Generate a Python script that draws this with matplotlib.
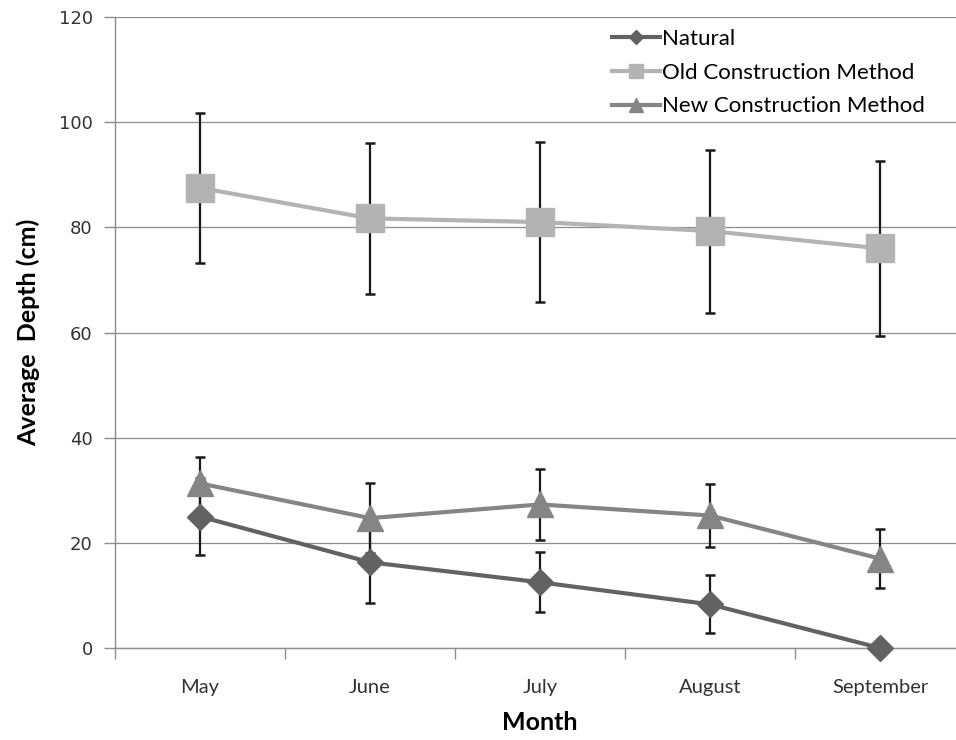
import matplotlib
matplotlib.use("Agg")
import matplotlib.pyplot as plt
from matplotlib.ticker import FixedLocator

months = ["May", "June", "July", "August", "September"]
natural = [25.0, 16.3, 12.5, 8.3, 0.0]
natural_err = [7.3, 7.7, 5.7, 5.5, 0.0]
old_method = [87.5, 81.7, 81.0, 79.3, 76.0]
old_err = [14.3, 14.4, 15.2, 15.5, 16.6]
new_method = [31.3, 24.7, 27.3, 25.2, 17.0]
new_err = [5.0, 6.7, 6.7, 6.0, 5.6]

fig = plt.figure(figsize=(9.56, 7.4), dpi=100)
ax = fig.add_axes([115/956, 1-648/740, 850/956, (648-17)/740])

x = list(range(len(months)))
series = [
    ("Natural", natural, natural_err, "#626262", "D", 13.5),
    ("Old Construction Method", old_method, old_err, "#b3b3b3", "s", 20),
    ("New Construction Method", new_method, new_err, "#858585", "^", 19),
]
for name, vals, err, col, mk, ms in series:
    ax.errorbar(x, vals, yerr=err, fmt="none", ecolor="#1a1a1a", elinewidth=1.6,
                capsize=3.8, capthick=1.8, zorder=2)
for name, vals, err, col, mk, ms in series:
    ax.plot(x, vals, color=col, lw=3.0, marker=mk, markersize=ms,
            markerfacecolor=col, markeredgecolor=col, label=name, zorder=3, clip_on=False)

ax.set_xlim(-0.5, 4.5)
ax.set_ylim(0, 120)
ax.set_yticks(range(0, 121, 20))
ax.yaxis.grid(True, color="#8c8c8c", lw=0.9)
ax.set_axisbelow(True)
ax.set_xticks(x)
ax.set_xticklabels(months, family="Lato")
ax.xaxis.set_minor_locator(FixedLocator([-0.5, 0.5, 1.5, 2.5, 3.5, 4.5]))
ax.tick_params(axis="x", which="major", length=0, pad=22, labelsize=14.5, labelcolor="#333333")
ax.tick_params(axis="x", which="minor", length=8, color="#8c8c8c", width=1)
ax.tick_params(axis="y", length=8, color="#8c8c8c", width=1, labelsize=13,
               labelcolor="#333333", pad=8)
for s in ["top", "right"]:
    ax.spines[s].set_visible(False)
for s in ["left", "bottom"]:
    ax.spines[s].set_color("#8c8c8c")
    ax.spines[s].set_linewidth(1.0)

ax.set_xlabel("Month", fontsize=18, fontweight="bold", family="Lato", labelpad=11)
ax.set_ylabel("Average  Depth (cm)", fontsize=18, fontweight="bold", family="Lato", labelpad=13)

leg = ax.legend(loc="upper left", bbox_to_anchor=(0.561, 1.013), frameon=False,
                prop={"family": "Lato", "size": 16}, handlelength=2.15,
                handletextpad=0.1, labelspacing=0.62, markerscale=0.5)

fig.savefig("out.png", dpi=100)
